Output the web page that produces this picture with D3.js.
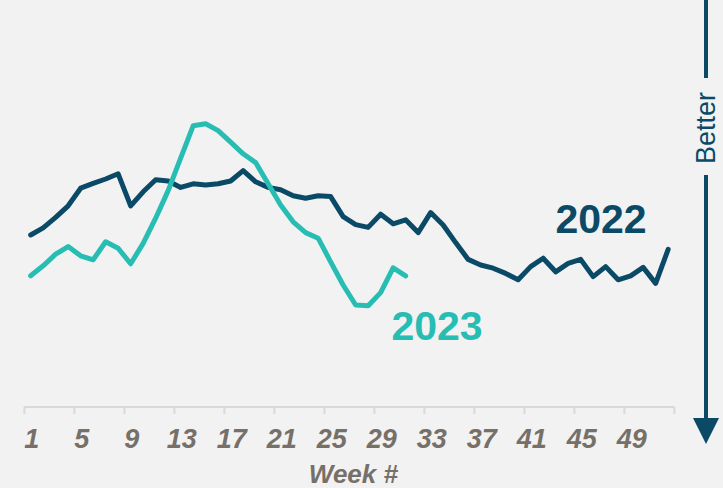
<!DOCTYPE html>
<html><head><meta charset="utf-8">
<script src="https://cdn.jsdelivr.net/npm/d3@7"></script>
<style>
html,body{margin:0;padding:0;background:#f2f2f2;}
svg{display:block;font-family:"Liberation Sans",Arial,sans-serif;}
</style></head>
<body>
<svg id="chart" width="723" height="488"></svg>
<script>
const weeks = d3.range(1, 53);
const tickWeeks = [1,5,9,13,17,21,25,29,33,37,41,45,49];
const values2022 = [43,44.8,47.4,50.3,54.7,55.9,57,58.3,50.3,53.8,56.8,56.5,54.9,55.8,55.5,55.8,56.5,59.1,56.3,54.9,54.3,52.8,52.2,52.8,52.6,47.6,45.6,44.9,48.2,45.8,46.8,43.6,48.6,45.5,41.1,36.9,35.5,34.7,33.4,31.8,35.1,37.2,33.8,35.9,36.9,32.6,35.1,31.8,32.8,34.9,30.9,39.4];
const values2023 = [32.8,35.3,38.2,40.1,37.8,36.8,41.3,39.7,35.8,40.9,47.2,54.1,62.2,70.3,70.8,69.1,66.2,63.3,61.1,55.8,50.5,46.3,43.6,42.2,36.3,30.5,25.5,25.3,28.6,34.8,32.8];
const seriesNames = ["2022","2023"];
const colors = {"2022":"#0b4a67","2023":"#27bdb3"};

const svg = d3.select("#chart");
const x = d3.scaleBand().domain(weeks).range([24.4, 674.4]).padding(0);
const y = d3.scaleLinear().domain([0, 100]).range([407, 7]);
const cx = w => x(w) + x.bandwidth()/2;

// axis
const axisG = svg.append("g");
axisG.append("line").attr("x1", x(1)).attr("x2", x(52)+x.bandwidth())
  .attr("y1", y(0)).attr("y2", y(0)).attr("stroke","#d9d9d9").attr("stroke-width",2);
const bounds = tickWeeks.map(w => x(w)).concat([x(52)+x.bandwidth()]);
axisG.selectAll("line.tk").data(bounds).join("line").attr("class","tk")
  .attr("x1", d=>d).attr("x2", d=>d).attr("y1", y(0)).attr("y2", y(0)+7)
  .attr("stroke","#d9d9d9").attr("stroke-width",2);
axisG.selectAll("text.tl").data(tickWeeks).join("text").attr("class","tl")
  .attr("x", w => cx(w)+1).attr("y", 448)
  .attr("text-anchor","middle").attr("font-size", 27).attr("font-weight","bold")
  .attr("font-style","italic").attr("fill","#767069").text(w => w);
svg.append("text").attr("x", (x(1) + x(52)+x.bandwidth())/2 + 4).attr("y", 483)
  .attr("text-anchor","middle").attr("font-size", 26).attr("font-weight","bold")
  .attr("font-style","italic").attr("fill","#767069").text("Week #");

// lines
const line = d3.line().x((d,i)=>cx(weeks[i])).y(d=>y(d));
[["2022", values2022], ["2023", values2023]].forEach(([name, vals]) => {
  svg.append("path").datum(vals).attr("d", line).attr("fill","none")
    .attr("stroke", colors[name]).attr("stroke-width", 5)
    .attr("stroke-linejoin","round").attr("stroke-linecap","round");
});

// series labels
svg.append("text").attr("x", 601).attr("y", 233).attr("text-anchor","middle")
  .attr("font-size", 41).attr("font-weight","bold").attr("fill", colors["2022"]).text(seriesNames[0]);
svg.append("text").attr("x", 437).attr("y", 340).attr("text-anchor","middle")
  .attr("font-size", 41).attr("font-weight","bold").attr("fill", colors["2023"]).text(seriesNames[1]);

// Better arrow
const ax = 706;
svg.append("line").attr("x1",ax).attr("x2",ax).attr("y1",0).attr("y2",78)
  .attr("stroke",colors["2022"]).attr("stroke-width",4);
svg.append("line").attr("x1",ax).attr("x2",ax).attr("y1",175).attr("y2",420)
  .attr("stroke",colors["2022"]).attr("stroke-width",4);
svg.append("path").attr("d", `M${ax-13},418 L${ax+13},418 L${ax},444 Z`).attr("fill",colors["2022"]);
svg.append("text").attr("transform", `translate(${ax+9},128) rotate(-90)`)
  .attr("text-anchor","middle").attr("font-size", 27).attr("fill", colors["2022"]).text("Better");
</script>
</body></html>
